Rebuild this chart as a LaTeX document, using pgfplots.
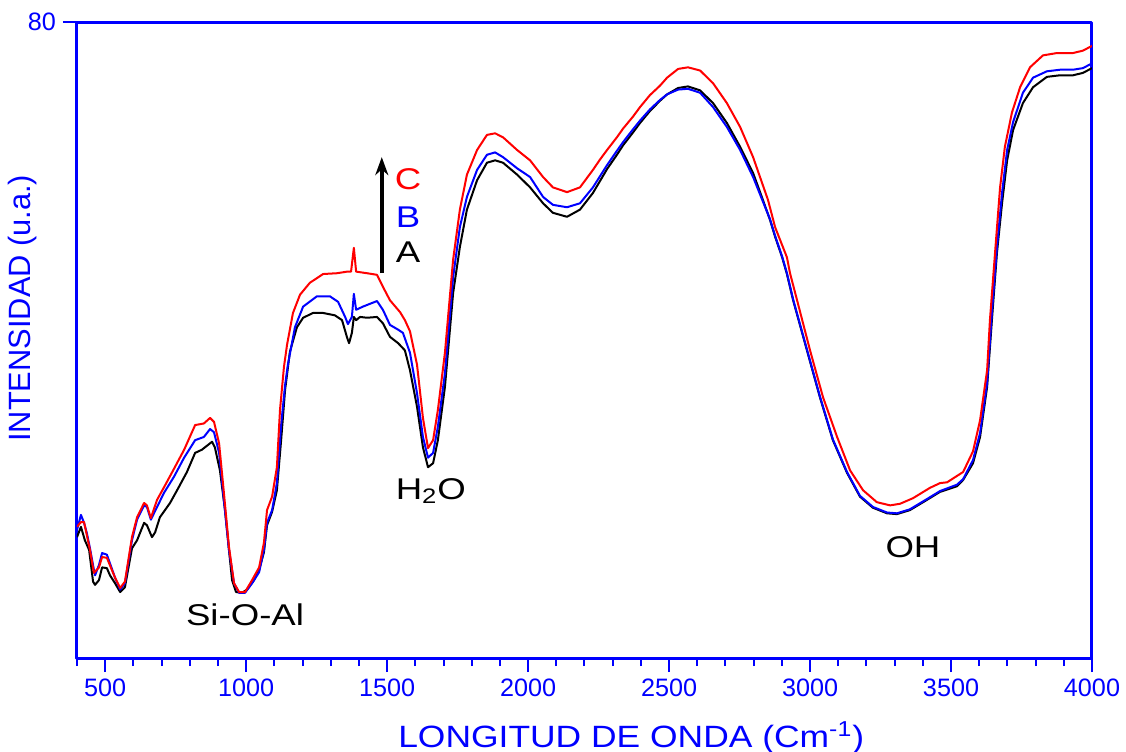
\documentclass[border=0pt]{standalone}
\usepackage{fontspec}
\setmainfont{Liberation Sans}
\newfontfamily\annfont[FakeStretch=1.22]{Liberation Sans}
\newfontfamily\xlabfont[FakeStretch=1.15]{Liberation Sans}
\usepackage{pgfplots}
\pgfplotsset{compat=1.18}
\usetikzlibrary{arrows.meta}

\begin{document}
\begin{tikzpicture}
\useasboundingbox (-38.5pt,-46.5pt) rectangle (524.5pt,329pt);
\begin{axis}[
  at={(0,0)}, anchor=south west,
  scale only axis, width=507.5pt, height=318pt,
  xmin=400, xmax=4000, ymin=0, ymax=80,
  axis line style={blue, line width=1.5pt},
  xtick={500,1000,...,4000},
  minor xtick={400,500,...,4000},
  ytick={80},
  xtick pos=bottom, ytick pos=left, tick align=outside,
  major tick length=7pt, minor tick length=4pt,
  every tick/.style={blue, line width=1pt},
  tick label style={blue, font=\fontsize{12.6}{15}\selectfont},
  /pgf/number format/assume math mode=true,
  /pgf/number format/1000 sep={},
  xlabel={LONGITUD DE ONDA (Cm\textsuperscript{-1})},
  ylabel={INTENSIDAD (u.a.)},
  xlabel style={blue, font=\xlabfont\fontsize{15.4}{18}\selectfont,
    at={(axis description cs:0.546,-0.140)}, anchor=base},
  ylabel style={blue, font=\fontsize{15.4}{18}\selectfont,
    at={(axis description cs:-0.054,0.55)}, anchor=center},
  line join=round,
]
% A
\addplot[black, line width=1pt] coordinates {
(400,15.2) (414,16.5) (428,14.8) (443,13.6) (457,9.6) (464,9.2) (478,9.8)
(489,11.4) (506,11.3) (517,10.4) (535,9.4) (553,8.3) (570,8.9) (595,13.8)
(613,14.8) (638,17.0) (648,16.7) (666,15.2) (677,15.8) (694,17.7) (730,19.5)
(755,21.1) (790,23.4) (819,25.8) (843,26.2) (879,27.2) (889,26.5) (907,23.6)
(925,18.6) (939,13.6) (950,9.8) (964,8.3) (985,8.2) (1003,8.6) (1028,9.8)
(1046,11.1) (1063,13.3) (1074,16.7) (1092,18.4) (1109,21.1) (1124,27.4)
(1138,33.7) (1155,38.5) (1180,41.6) (1202,42.8) (1237,43.4) (1273,43.4)
(1315,43.1) (1340,42.5) (1358,40.3) (1365,39.6) (1375,40.9) (1382,42.9)
(1390,42.5) (1404,42.9) (1429,42.8) (1464,42.9) (1485,42.1) (1510,40.4)
(1539,39.6) (1563,38.7) (1581,36.2) (1606,31.6) (1627,26.5) (1645,24.0)
(1663,24.5) (1680,27.4) (1705,34.1) (1734,45.9) (1758,51.7) (1783,56.4)
(1819,60.1) (1854,62.3) (1883,62.6) (1911,62.3) (1961,60.8) (2007,59.2)
(2053,57.2) (2088,56.0) (2138,55.5) (2184,56.4) (2230,58.5) (2255,60.0)
(2280,61.5) (2315,63.3) (2337,64.5) (2372,66.1) (2397,67.3) (2432,68.8)
(2468,70.1) (2493,70.9) (2532,71.7) (2567,71.9) (2610,71.4) (2656,69.8)
(2705,67.3) (2752,64.3) (2798,61.0) (2833,57.6) (2858,55.1) (2876,53.0)
(2901,50.4) (2918,48.3) (2940,45.0) (2989,38.7) (3035,32.8) (3081,27.4)
(3131,23.3) (3177,20.3) (3223,18.9) (3273,18.2) (3308,18.1) (3354,18.6)
(3415,19.9) (3461,20.9) (3521,21.6) (3543,22.4) (3578,24.5) (3603,27.8)
(3628,34.1) (3645,42.5) (3663,51.0) (3681,57.2) (3699,62.6) (3720,66.4)
(3755,69.8) (3791,71.8) (3840,73.1) (3887,73.3) (3933,73.3) (3968,73.6)
(4000,74.2)
};
% B
\addplot[blue, line width=1pt] coordinates {
(400,16.1) (414,18.0) (425,17.0) (435,15.7) (446,13.8) (460,11.1) (464,10.4)
(478,11.7) (489,13.2) (506,13.0) (517,11.9) (535,10.1) (553,8.6) (570,9.4)
(595,14.8) (613,17.4) (638,19.2) (648,19.0) (662,17.4) (684,19.0) (709,20.8)
(744,22.8) (780,25.2) (819,27.4) (850,27.8) (872,28.8) (886,28.4) (904,25.8)
(921,19.9) (939,13.6) (957,9.4) (975,8.2) (996,8.2) (1021,9.4) (1046,10.8)
(1063,13.6) (1074,17.0) (1092,18.6) (1109,22.0) (1124,29.3) (1138,34.3)
(1148,36.9) (1173,41.6) (1202,44.2) (1251,45.5) (1297,45.5) (1326,44.8)
(1351,42.9) (1361,42.0) (1375,42.9) (1382,45.8) (1390,43.8) (1414,44.2)
(1464,44.9) (1485,43.8) (1510,41.9) (1539,41.3) (1556,40.9) (1581,38.4)
(1606,33.3) (1627,27.8) (1645,25.2) (1663,25.8) (1680,29.1) (1705,35.8)
(1734,47.9) (1758,54.2) (1783,58.0) (1819,61.4) (1854,63.3) (1883,63.6)
(1911,63.0) (1961,61.6) (2007,60.5) (2053,58.0) (2088,57.0) (2138,56.7)
(2184,57.2) (2230,59.2) (2255,60.6) (2280,62.0) (2315,63.8) (2337,64.9)
(2372,66.5) (2397,67.6) (2432,69.0) (2468,70.2) (2493,70.9) (2532,71.5)
(2567,71.6) (2610,71.1) (2656,69.3) (2705,66.8) (2752,63.9) (2798,60.5)
(2833,57.4) (2858,55.2) (2876,53.1) (2901,50.5) (2918,48.4) (2940,45.1)
(2989,38.8) (3035,32.9) (3081,27.5) (3131,23.4) (3177,20.4) (3223,19.0)
(3273,18.3) (3308,18.2) (3354,18.7) (3415,20.0) (3461,21.0) (3521,21.8)
(3543,22.5) (3578,24.9) (3603,28.3) (3628,34.6) (3645,43.4) (3663,51.7)
(3681,58.5) (3699,63.9) (3720,67.4) (3755,71.1) (3791,73.0) (3840,73.8)
(3887,74.0) (3933,74.0) (3968,74.2) (4000,74.8)
};
% C
\addplot[red, line width=1pt] coordinates {
(400,16.5) (414,17.1) (425,17.1) (446,13.6) (460,10.7) (478,11.4) (489,12.7)
(506,12.6) (535,10.1) (553,8.8) (570,9.6) (595,15.2) (613,17.7) (638,19.5)
(648,19.2) (662,17.6) (684,19.9) (709,21.5) (744,23.8) (780,26.2) (819,29.3)
(850,29.5) (872,30.2) (886,29.7) (904,27.0) (921,20.8) (939,14.0) (957,9.4)
(975,8.3) (996,8.3) (1021,9.8) (1046,11.4) (1063,14.5) (1074,18.6)
(1092,20.3) (1109,24.0) (1120,31.2) (1134,36.6) (1145,39.4) (1166,43.4)
(1191,45.7) (1226,47.2) (1273,48.3) (1322,48.4) (1358,48.6) (1372,48.6)
(1382,51.6) (1390,48.6) (1429,48.4) (1464,48.2) (1485,46.7) (1510,45.0)
(1546,43.5) (1563,42.5) (1581,41.1) (1606,36.9) (1627,30.2) (1645,26.4)
(1663,27.4) (1680,31.2) (1705,38.4) (1734,50.1) (1758,56.4) (1783,60.8)
(1819,63.9) (1854,65.8) (1883,66.0) (1911,65.5) (1961,63.9) (2007,62.6)
(2053,60.5) (2088,59.2) (2138,58.6) (2184,59.2) (2230,61.4) (2255,62.7)
(2280,63.9) (2315,65.5) (2337,66.6) (2372,68.1) (2397,69.3) (2432,70.8)
(2468,72.0) (2493,73.0) (2532,74.1) (2567,74.3) (2610,73.9) (2656,72.3)
(2705,69.8) (2752,66.8) (2798,63.0) (2851,57.6) (2876,54.2) (2918,50.4)
(2929,48.4) (2954,45.0) (3000,38.7) (3046,32.8) (3096,27.8) (3142,23.6)
(3188,21.1) (3237,19.6) (3284,19.2) (3319,19.4) (3365,20.1) (3425,21.4)
(3461,22.0) (3486,22.1) (3543,23.4) (3578,26.0) (3603,29.9) (3628,36.2)
(3638,42.5) (3656,50.9) (3674,59.2) (3691,64.3) (3716,68.6) (3745,71.8)
(3780,74.3) (3826,75.8) (3876,76.1) (3933,76.1) (3968,76.4) (4000,77.0)
};
% band labels
\node[font=\annfont\fontsize{15}{18}\selectfont, anchor=base] at (axis cs:996,4.15) {Si-O-Al};
\node[font=\annfont\fontsize{15}{18}\selectfont, anchor=base] at (axis cs:1655,20.0) {H\textsubscript{2}O};
\node[font=\annfont\fontsize{15}{18}\selectfont, anchor=base] at (axis cs:3365,12.7) {OH};
% sample order
\draw[-{Stealth[length=9pt,width=6.5pt]}, line width=2pt] (axis cs:1481,48.4) -- (axis cs:1481,63.0);
\node[font=\annfont\fontsize{15}{18}\selectfont, anchor=base, text=red] at (axis cs:1574,58.9) {C};
\node[font=\annfont\fontsize{15}{18}\selectfont, anchor=base, text=blue] at (axis cs:1574,54.2) {B};
\node[font=\annfont\fontsize{15}{18}\selectfont, anchor=base, text=black] at (axis cs:1574,49.7) {A};
\end{axis}
\end{tikzpicture}
\end{document}
